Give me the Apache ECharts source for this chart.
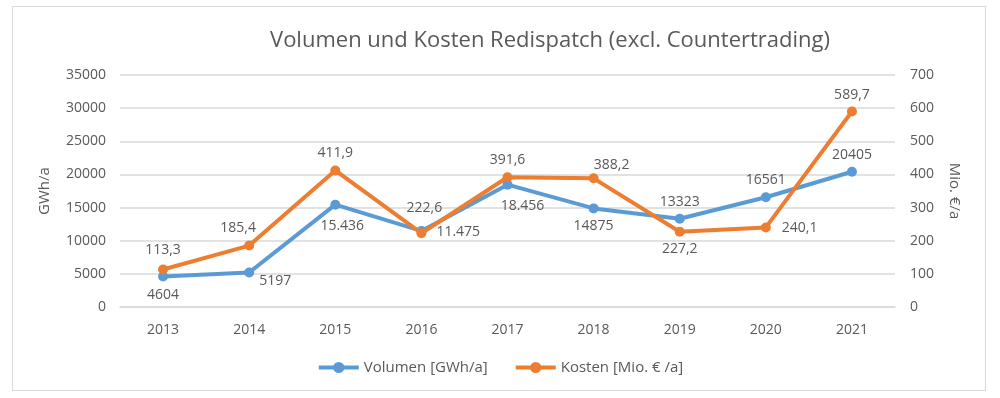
<!DOCTYPE html>
<html>
<head>
<meta charset="utf-8">
<script src="https://cdn.jsdelivr.net/npm/echarts@6/dist/echarts.min.js"></script>
<style>
  html, body { margin: 0; padding: 0; background: #fff; }
  #chart { width: 1000px; height: 398px; }
  #frame { position: absolute; left: 12px; top: 6px; width: 974px; height: 385px; border: 1px solid #d9d9d9; box-sizing: border-box; pointer-events: none; }
</style>
</head>
<body>
<div id="chart"></div>
<div id="frame"></div>
<script>
const years = ['2013', '2014', '2015', '2016', '2017', '2018', '2019', '2020', '2021'];
const volumen = [4604, 5197, 15436, 11475, 18456, 14875, 13323, 16561, 20405];
const volumenLabels = ['4604', '5197', '15.436', '11.475', '18.456', '14875', '13323', '16561', '20405'];
const kosten = [113.3, 185.4, 411.9, 222.6, 391.6, 388.2, 227.2, 240.1, 589.7];
const kostenLabels = ['113,3', '185,4', '411,9', '222,6', '391,6', '388,2', '227,2', '240,1', '589,7'];

// label placement per point: [position, dx, dy]
const volPlace = [['bottom', 0, 2], ['right', 0, 8], ['bottom', 7, 4], ['right', 5, 1], ['bottom', 15, 4],
                  ['bottom', 0, 1], ['top', 0, 0], ['top', 0, 0], ['top', 0, 0]];
const kosPlace = [['top', 0, -2], ['top', -11, -1], ['top', 0, 0], ['top', 3, -8], ['top', 0, 0],
                  ['top', 18, 4], ['bottom', 0, 0], ['right', 6, 1], ['top', 0, 0]];

const font = 'Open Sans';
const textColor = '#595959';
const gridColor = '#d9d9d9';

function buildData(values, labels, place) {
    return values.map((v, i) => ({
        value: v,
        label: {
            position: place[i][0],
            offset: [place[i][1], place[i][2]],
            formatter: labels[i]
        }
    }));
}

const chart = echarts.init(document.getElementById('chart'));

chart.setOption({
    animation: false,
    textStyle: { fontFamily: font, color: textColor },
    title: {
        text: 'Volumen und Kosten Redispatch (excl. Countertrading)',
        left: 545,
        textAlign: 'center',
        top: 25,
        textStyle: { fontFamily: font, fontSize: 22, fontWeight: 'normal', color: textColor }
    },
    legend: {
        left: 'center',
        top: 355,
        itemWidth: 40,
        itemHeight: 14,
        itemGap: 26,
        lineStyle: { width: 4 },
        textStyle: { fontFamily: font, fontSize: 15, color: textColor },
        data: ['Volumen [GWh/a]', 'Kosten [Mio. € /a]']
    },
    grid: { left: 120, right: 105, top: 75, bottom: 91 },
    xAxis: {
        type: 'category',
        data: years,
        boundaryGap: true,
        axisLine: { show: true, lineStyle: { color: gridColor, width: 1.5 } },
        axisTick: { show: false },
        axisLabel: { color: textColor, fontFamily: font, fontSize: 14, margin: 16 }
    },
    yAxis: [{
        type: 'value',
        min: 0,
        max: 35000,
        interval: 5000,
        name: 'GWh/a',
        nameLocation: 'middle',
        nameGap: 68,
        nameTextStyle: { color: textColor, fontFamily: font, fontSize: 15 },
        axisLine: { show: false },
        axisTick: { show: false },
        axisLabel: { color: textColor, fontFamily: font, fontSize: 14, margin: 14, formatter: v => String(v) },
        splitLine: { lineStyle: { color: gridColor, width: 1.5 } }
    }, {
        type: 'value',
        min: 0,
        max: 700,
        interval: 100,
        name: 'Mio. €/a',
        nameLocation: 'middle',
        nameGap: 52,
        nameRotate: -90,
        nameTextStyle: { color: textColor, fontFamily: font, fontSize: 15 },
        axisLine: { show: false },
        axisTick: { show: false },
        axisLabel: { color: textColor, fontFamily: font, fontSize: 14, margin: 15, formatter: v => String(v) },
        splitLine: { show: false }
    }],
    series: [{
        name: 'Volumen [GWh/a]',
        type: 'line',
        yAxisIndex: 0,
        data: buildData(volumen, volumenLabels, volPlace),
        symbol: 'circle',
        symbolSize: 10,
        lineStyle: { width: 4, color: '#5b9bd5' },
        itemStyle: { color: '#5b9bd5' },
        label: { show: true, color: textColor, fontFamily: font, fontSize: 14 },
        z: 2
    }, {
        name: 'Kosten [Mio. € /a]',
        type: 'line',
        yAxisIndex: 1,
        data: buildData(kosten, kostenLabels, kosPlace),
        symbol: 'circle',
        symbolSize: 10,
        lineStyle: { width: 4, color: '#ed7d31' },
        itemStyle: { color: '#ed7d31' },
        label: { show: true, color: textColor, fontFamily: font, fontSize: 14 },
        z: 3
    }]
});

window.addEventListener('resize', () => chart.resize());
</script>
</body>
</html>
